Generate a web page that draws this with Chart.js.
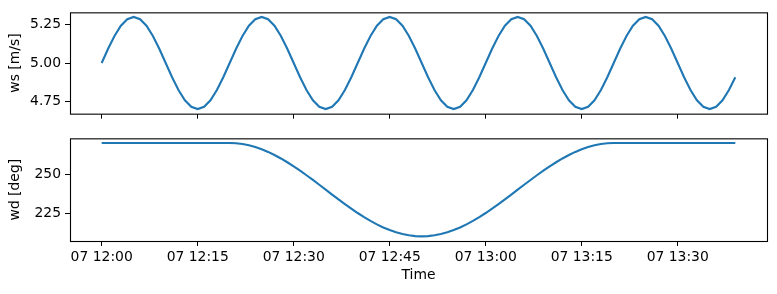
<!DOCTYPE html>
<html><head><meta charset="utf-8">
<script src="https://cdn.jsdelivr.net/npm/chart.js@4/dist/chart.umd.min.js"></script>
<style>
html,body{margin:0;padding:0;background:#fff;}
#wrap{position:relative;width:777px;height:294px;overflow:hidden;}
canvas{position:absolute;left:0;}
</style></head><body>
<div id="wrap">
<canvas id="c1" width="777" height="126" style="top:0px"></canvas>
<canvas id="c2" width="777" height="168" style="top:126px"></canvas>
</div>
<script>
// minutes after 07 12:00
const timeMinutes = [0,1,2,3,4,5,6,7,8,9,10,11,12,13,14,15,16,17,18,19,
20,21,22,23,24,25,26,27,28,29,30,31,32,33,34,35,36,37,38,39,
40,41,42,43,44,45,46,47,48,49,50,51,52,53,54,55,56,57,58,59,
60,61,62,63,64,65,66,67,68,69,70,71,72,73,74,75,76,77,78,79,
80,81,82,83,84,85,86,87,88,89,90,91,92,93,94,95,96,97,98,99];
const wsValues = [
5.000,5.093,5.176,5.243,5.285,5.300,5.285,5.243,5.176,5.093,5.000,4.907,4.824,4.757,4.715,4.700,4.715,4.757,4.824,4.907,
5.000,5.093,5.176,5.243,5.285,5.300,5.285,5.243,5.176,5.093,5.000,4.907,4.824,4.757,4.715,4.700,4.715,4.757,4.824,4.907,
5.000,5.093,5.176,5.243,5.285,5.300,5.285,5.243,5.176,5.093,5.000,4.907,4.824,4.757,4.715,4.700,4.715,4.757,4.824,4.907,
5.000,5.093,5.176,5.243,5.285,5.300,5.285,5.243,5.176,5.093,5.000,4.907,4.824,4.757,4.715,4.700,4.715,4.757,4.824,4.907,
5.000,5.093,5.176,5.243,5.285,5.300,5.285,5.243,5.176,5.093,5.000,4.907,4.824,4.757,4.715,4.700,4.715,4.757,4.824,4.907];
const wdValues = [
270,270,270,270,270,270,270,270,270,270,270,270,270,270,270,270,270,270,270,270,270,
269.84,269.34,268.53,267.41,265.98,264.27,262.29,260.07,257.63,255.00,252.20,249.27,246.24,243.14,240.00,
236.86,233.76,230.73,227.80,225.00,222.37,219.93,217.71,215.73,214.02,212.59,211.47,210.66,210.16,
210.00,
210.16,210.66,211.47,212.59,214.02,215.73,217.71,219.93,222.37,225.00,227.80,230.73,233.76,236.86,
240.00,243.14,246.24,249.27,252.20,255.00,257.63,260.07,262.29,264.27,265.98,267.41,268.53,269.34,269.84,
270,270,270,270,270,270,270,270,270,270,270,270,270,270,270,270,270,270,270,270];
const xTickMinutes = [0,15,30,45,60,75,90];
const xTickLabels = ["07 12:00","07 12:15","07 12:30","07 12:45","07 13:00","07 13:15","07 13:30"];
const wsTicks = [4.75,5.00,5.25];
const wdTicks = [225,250];

Chart.defaults.color = '#000';
Chart.defaults.font.family = "'DejaVu Sans', sans-serif";
Chart.defaults.font.size = 13.9;

const frame = {
  id:'frame',
  afterDraw(chart){
    const a = chart.chartArea, ctx = chart.ctx;
    ctx.save(); ctx.strokeStyle='#000'; ctx.lineWidth=1.1;
    ctx.strokeRect(a.left+0.5, a.top+0.5, a.right-a.left, a.bottom-a.top);
    ctx.restore();
  }
};

function makeChart(id, values, yMin, yMax, yTicks, yTitle, decimals, showX){
  return new Chart(document.getElementById(id), {
    type:'line',
    data:{datasets:[{
      data: timeMinutes.map((t,i)=>({x:t, y:values[i]})),
      borderColor:'#1f77b4', borderWidth:2.1, pointRadius:0, tension:0, fill:false
    }]},
    options:{
      responsive:false, animation:false, events:[],
      layout:{padding:{top:10,right:10,left:0,bottom:0}},
      plugins:{legend:{display:false}, tooltip:{enabled:false}},
      scales:{
        x:{type:'linear', min:-4.95, max:103.95,
          afterBuildTicks(s){ s.ticks = xTickMinutes.map(v=>({value:v})); },
          afterFit(s){ s.height = showX ? 53 : 11; },
          grid:{drawOnChartArea:false, drawTicks:true, tickLength:5, color:'#000', lineWidth:1},
          border:{display:false},
          ticks:{autoSkip:false, maxRotation:0, padding:3,
            callback(v){ const k = xTickMinutes.indexOf(v); return showX && k>=0 ? xTickLabels[k] : ''; }},
          title:{display:showX, text:'Time', padding:{top:0,bottom:10}}
        },
        y:{min:yMin, max:yMax,
          afterBuildTicks(s){ s.ticks = yTicks.map(v=>({value:v})); },
          afterFit(s){ s.width = 70; },
          grid:{drawOnChartArea:false, drawTicks:true, tickLength:5, color:'#000', lineWidth:1},
          border:{display:false},
          ticks:{padding:4, callback(v){ return Number(v).toFixed(decimals); }},
          title:{display:true, text:yTitle, padding:{top:7,bottom:0}}
        }
      }
    },
    plugins:[frame]
  });
}
makeChart('c1', wsValues, 4.67, 5.33, wsTicks, 'ws [m/s]', 2, false);
makeChart('c2', wdValues, 207, 273, wdTicks, 'wd [deg]', 0, true);
</script>
</body></html>
